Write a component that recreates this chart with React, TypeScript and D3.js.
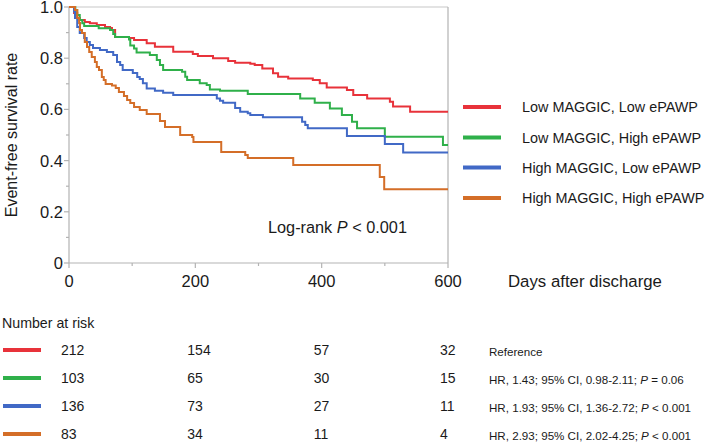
import React from "react";
import * as d3 from "d3";

const seriesNames = [
  "Low MAGGIC, Low ePAWP",
  "Low MAGGIC, High ePAWP",
  "High MAGGIC, Low ePAWP",
  "High MAGGIC, High ePAWP",
];
const seriesColors = ["#e8323a", "#2fb04a", "#4169c6", "#d46e28"];

const redTimes = [0, 8, 13, 17, 25, 33, 44, 57, 65, 68, 73, 95, 103, 123, 136, 165, 196, 204, 228, 252, 263, 287, 294, 306, 323, 331, 347, 386, 397, 408, 440, 450, 472, 508, 513, 540, 600];
const redSurv = [1, 0.977, 0.957, 0.949, 0.941, 0.937, 0.93, 0.922, 0.918, 0.91, 0.883, 0.879, 0.871, 0.858, 0.845, 0.825, 0.816, 0.809, 0.8, 0.789, 0.782, 0.778, 0.773, 0.76, 0.741, 0.728, 0.721, 0.715, 0.702, 0.686, 0.676, 0.656, 0.643, 0.63, 0.611, 0.591, 0.591];

const greenTimes = [0, 10, 13, 17, 21, 24, 47, 65, 70, 73, 95, 97, 103, 107, 128, 139, 144, 149, 179, 184, 187, 207, 218, 223, 239, 283, 366, 389, 413, 432, 448, 456, 500, 592, 600];
const greenSurv = [1, 0.988, 0.969, 0.949, 0.937, 0.926, 0.917, 0.91, 0.895, 0.883, 0.873, 0.85, 0.838, 0.822, 0.8125, 0.793, 0.773, 0.754, 0.747, 0.728, 0.715, 0.702, 0.695, 0.678, 0.673, 0.66, 0.643, 0.626, 0.604, 0.578, 0.552, 0.526, 0.493, 0.461, 0.461];

const blueTimes = [0, 8, 9.5, 13, 17, 24, 28, 33, 38, 49, 60, 70, 76, 81, 85, 101, 108, 112, 117, 123, 136, 149, 165, 234, 239, 244, 263, 271, 283, 287, 307, 369, 374, 378, 440, 500, 529, 600];
const blueSurv = [1, 0.982, 0.957, 0.922, 0.898, 0.879, 0.863, 0.852, 0.84, 0.832, 0.824, 0.8125, 0.785, 0.773, 0.754, 0.742, 0.727, 0.719, 0.702, 0.682, 0.673, 0.665, 0.656, 0.643, 0.634, 0.626, 0.605, 0.591, 0.585, 0.578, 0.569, 0.552, 0.539, 0.526, 0.496, 0.465, 0.432, 0.432];

const orangeTimes = [0, 9.5, 13, 16, 17.4, 20.6, 25, 28.5, 32, 36, 41, 44, 47.5, 52, 55, 58, 68, 74, 79, 87, 92, 97, 103, 112, 123, 144, 152, 176, 195, 197, 241, 279, 283, 355, 492, 499, 600];
const orangeSurv = [1, 0.988, 0.957, 0.9375, 0.91, 0.898, 0.863, 0.844, 0.824, 0.805, 0.785, 0.766, 0.754, 0.727, 0.715, 0.699, 0.693, 0.684, 0.668, 0.652, 0.637, 0.625, 0.609, 0.598, 0.582, 0.555, 0.531, 0.5, 0.492, 0.473, 0.434, 0.422, 0.41, 0.383, 0.336, 0.288, 0.288];

const seriesTimes = [redTimes, greenTimes, blueTimes, orangeTimes];
const seriesSurv = [redSurv, greenSurv, blueSurv, orangeSurv];

const yTicks = [0, 0.2, 0.4, 0.6, 0.8, 1.0];
const yTickLabels = ["0", "0.2", "0.4", "0.6", "0.8", "1.0"];
const yMinorTicks = [0.1, 0.3, 0.5, 0.7, 0.9];
const xTicks = [0, 200, 400, 600];
const xMinorTicks = [100, 300, 500];

const riskTimes = [0, 200, 400, 600];
const riskRed = [212, 154, 57, 32];
const riskGreen = [103, 65, 30, 15];
const riskBlue = [136, 73, 27, 11];
const riskOrange = [83, 34, 11, 4];
const riskRows = [riskRed, riskGreen, riskBlue, riskOrange];

const hrMain = ["Reference", "HR, 1.43; 95% CI, 0.98-2.11; ", "HR, 1.93; 95% CI, 1.36-2.72; ", "HR, 2.93; 95% CI, 2.02-4.25; "];
const hrP = ["", " = 0.06", " < 0.001", " < 0.001"];

const FONT = "'Liberation Sans', Arial, Helvetica, sans-serif";

export default function App() {
  const W = 709;
  const H = 443;
  const x = d3.scaleLinear().domain([0, 600]).range([69, 448]);
  const y = d3.scaleLinear().domain([0, 1]).range([263, 7]);
  const line = d3
    .line<[number, number]>()
    .x((d) => x(d[0]))
    .y((d) => y(d[1]))
    .curve(d3.curveStepAfter);
  const axisColor = "#b3b3b3";
  const textColor = "#1a1a1a";

  const legendY = [107, 137.5, 167.5, 198];
  const rowY = [350, 378, 406, 434];

  return (
    <svg
      width={W}
      height={H}
      style={{ position: "absolute", left: 0, top: 0, background: "#fff" }}
      fontFamily={FONT}
    >
      {/* frame */}
      <line x1={x(0)} x2={x(600)} y1={y(1)} y2={y(1)} stroke="#c8c8c8" strokeWidth={1.2} />
      <line x1={x(600)} x2={x(600)} y1={y(1)} y2={y(0)} stroke={axisColor} strokeWidth={1.2} />
      <line x1={x(0)} x2={x(0)} y1={y(1)} y2={y(0)} stroke={axisColor} strokeWidth={1.2} />
      <line x1={x(0)} x2={x(600)} y1={y(0)} y2={y(0)} stroke={axisColor} strokeWidth={1.2} />
      {yTicks.map((t, i) => (
        <g key={"yt" + i}>
          <line x1={x(0) - 5} x2={x(0)} y1={y(t)} y2={y(t)} stroke={axisColor} strokeWidth={1.2} />
          <text x={x(0) - 6} y={y(t)} dy="0.36em" textAnchor="end" fontSize={16.5} fill={textColor}>
            {yTickLabels[i]}
          </text>
        </g>
      ))}
      {yMinorTicks.map((t, i) => (
        <line key={"ym" + i} x1={x(0) - 3} x2={x(0)} y1={y(t)} y2={y(t)} stroke={axisColor} strokeWidth={1.2} />
      ))}
      {xTicks.map((t, i) => (
        <g key={"xt" + i}>
          <line x1={x(t)} x2={x(t)} y1={y(0)} y2={y(0) + 5} stroke={axisColor} strokeWidth={1.2} />
          <text x={x(t)} y={287} textAnchor="middle" fontSize={16.5} fill={textColor}>
            {t}
          </text>
        </g>
      ))}
      {xMinorTicks.map((t, i) => (
        <line key={"xm" + i} x1={x(t)} x2={x(t)} y1={y(0)} y2={y(0) + 3} stroke={axisColor} strokeWidth={1.2} />
      ))}
      <text
        transform={`translate(17,${(y(0) + y(1)) / 2}) rotate(-90)`}
        textAnchor="middle"
        fontSize={16}
        fill={textColor}
      >
        Event-free survival rate
      </text>
      <text x={508} y={287} fontSize={16.8} fill={textColor}>
        Days after discharge
      </text>

      {/* curves */}
      {seriesTimes.map((ts, i) => (
        <path
          key={"c" + i}
          d={line(ts.map((t, j) => [t, seriesSurv[i][j]] as [number, number])) || ""}
          fill="none"
          stroke={seriesColors[i]}
          strokeWidth={2}
        />
      ))}

      <text x={268} y={232.5} fontSize={16.3} fill={textColor}>
        Log-rank <tspan fontStyle="italic">P</tspan> &lt; 0.001
      </text>

      {/* legend */}
      {seriesNames.map((n, i) => (
        <g key={"lg" + i}>
          <line x1={463} x2={501} y1={legendY[i]} y2={legendY[i]} stroke={seriesColors[i]} strokeWidth={4} />
          <text x={522} y={legendY[i] + 5} fontSize={14.4} fill={textColor}>
            {n}
          </text>
        </g>
      ))}

      {/* number at risk */}
      <text x={2} y={328} fontSize={14.2} fill={textColor}>
        Number at risk
      </text>
      {riskRows.map((row, i) => (
        <g key={"rr" + i}>
          <line x1={3} x2={41} y1={rowY[i]} y2={rowY[i]} stroke={seriesColors[i]} strokeWidth={4} />
          {row.map((v, j) => (
            <text key={j} x={x(riskTimes[j]) - 8} y={rowY[i] + 5} fontSize={14} fill={textColor}>
              {v}
            </text>
          ))}
          <text x={489} y={rowY[i] + 6} fontSize={11.6} fill={textColor}>
            {hrMain[i]}
            {hrP[i] ? <tspan fontStyle="italic">P</tspan> : null}
            {hrP[i]}
          </text>
        </g>
      ))}
    </svg>
  );
}
